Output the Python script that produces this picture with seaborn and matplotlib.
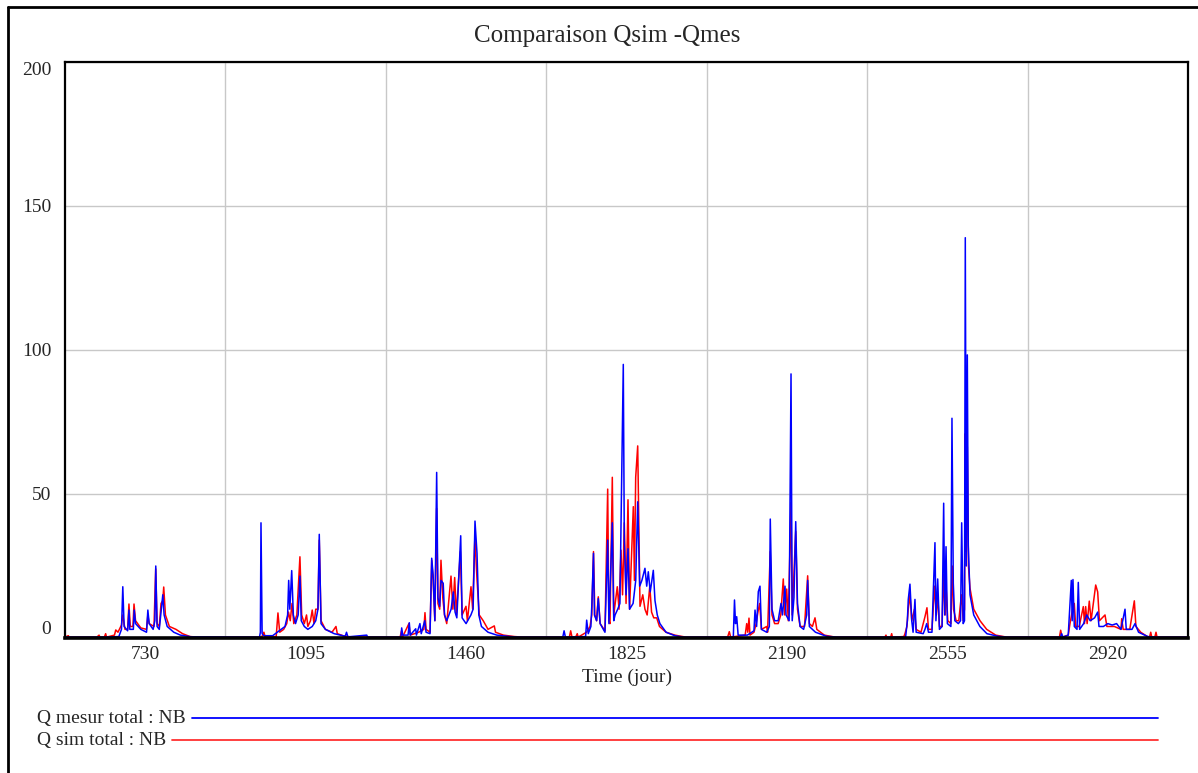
import numpy as np
import pandas as pd
import matplotlib
matplotlib.use('Agg')
import matplotlib.pyplot as plt
from matplotlib.lines import Line2D
import seaborn as sns

# Q mesur total : NB (blue): (day, value)
t_mes = [547.5, 640, 670, 676, 679, 682, 690, 693, 695, 703, 705, 708, 720, 733, 736, 739,
         748, 752, 754, 757, 762, 766, 770, 773, 780, 795, 810, 835,
         990, 992, 993.4, 996, 1000, 1020, 1035, 1048, 1054, 1056.4, 1059, 1063.3, 1067,
         1072, 1078, 1082, 1085, 1092, 1100, 1110, 1118, 1123, 1126, 1130, 1140, 1160,
         1185, 1188, 1191, 1234, 1236,
         1312, 1313.5, 1316, 1328, 1330.8, 1333, 1345.4, 1347, 1355, 1358, 1366, 1369,
         1378, 1381.8, 1385, 1389, 1393.1, 1396, 1400, 1403, 1408, 1411, 1416, 1426,
         1431, 1435, 1439, 1447.8, 1451, 1460, 1471, 1476, 1480.3, 1484.9, 1489, 1495,
         1510, 1530, 1560, 1580,
         1680, 1683, 1686, 1732, 1734.4, 1738, 1744, 1746, 1749.9, 1752, 1757, 1760.8,
         1765, 1776, 1782.2, 1785, 1792.7, 1796, 1799, 1805, 1810, 1817.7, 1820, 1824,
         1828.4, 1832, 1840, 1846, 1850.5, 1855, 1860, 1867, 1871, 1874.6, 1879, 1886,
         1889.8, 1895, 1901, 1915, 1935, 1955,
         2068, 2070.7, 2073, 2075.7, 2079, 2100, 2115, 2117.4, 2121, 2124.9, 2128.7,
         2132, 2144, 2150, 2152.1, 2156, 2162, 2170, 2176.5, 2180, 2185.6, 2188, 2195,
         2199.3, 2202, 2206, 2210, 2214, 2220, 2228, 2235, 2237.2, 2241, 2255, 2280, 2303,
         2460, 2464, 2466.1, 2469.9, 2474, 2477, 2481.3, 2484, 2500, 2504, 2508, 2512,
         2520, 2521.6, 2526.8, 2529, 2533, 2537, 2543, 2546.6, 2549, 2552, 2555, 2563,
         2565.5, 2568.5, 2572, 2580, 2585, 2587.6, 2591, 2594, 2595.8, 2598.1, 2600.4,
         2602.6, 2606.5, 2615, 2629, 2645, 2670, 2690,
         2812, 2815, 2818, 2830, 2834, 2837, 2839, 2840.8, 2843.8, 2850, 2852.9, 2856,
         2865, 2872, 2880, 2890, 2897, 2900, 2910, 2920, 2930, 2940, 2950, 2959.2, 2962,
         2975, 2982, 2990, 3011, 3030, 3102.5]
q_mes = [0.3, 0.3, 0.5, 3, 17.8, 4, 2.5, 9.7, 3, 3, 9.7, 5, 3, 2, 9.7, 5,
         3, 6, 25, 4, 3, 9, 15, 8, 4, 2, 1, 0.4,
         0.3, 2, 40, 1.5, 0.8, 0.8, 2.5, 4, 8, 20, 10, 23.4, 8,
         5, 8, 21.5, 6, 4, 3, 4, 6, 10, 36, 5, 3, 1.5,
         0.6, 2, 0.4, 1, 0.3,
         0.3, 3.5, 1, 1, 5.3, 1, 3.2, 1, 5, 1.5, 6, 2,
         1.5, 27.7, 22, 6, 57.5, 14, 11, 20, 19, 8, 6, 10,
         16, 9, 7, 35.5, 7, 5, 8, 10, 40.6, 29.4, 8, 4,
         2, 1, 0.5, 0.3,
         0.3, 2.5, 0.3, 0.5, 6.2, 1.5, 4, 11, 29.4, 8, 6, 13.7,
         5, 2, 34, 5, 40, 6, 8, 10, 12, 95, 34, 15,
         31, 10, 12, 20, 47.3, 18, 20, 24.2, 18, 23, 16, 23.5,
         13, 8, 5, 2, 0.8, 0.3,
         0.3, 13.2, 5, 7.4, 1, 1, 2.5, 9.7, 4, 16.1, 18,
         3, 2, 4, 41.3, 10, 6, 6, 12, 8, 18, 8, 6,
         91.7, 6, 14, 40.4, 12, 4, 3, 8, 20, 4, 2, 0.6, 0.3,
         0.3, 6, 13.4, 18.7, 6, 2, 13.4, 2, 1.5, 3, 5, 2,
         2, 9.7, 33.1, 6, 20.5, 3, 4, 46.8, 8, 31.7, 5, 4,
         76.3, 19, 6, 5, 6, 40, 5, 6, 139, 25, 98.3,
         32, 15, 8, 4, 1.5, 0.6, 0.3,
         0.3, 1.5, 0.3, 1, 12, 20, 6, 20.3, 4, 3, 19.3, 3,
         5, 8, 6, 7, 9, 4, 4, 5, 4.5, 5, 3, 10, 3,
         3, 5, 2, 0.5, 0.3, 0.3]

# Q sim total : NB (red)
t_sim = [547.5, 555, 557, 620, 625, 627, 637, 640, 642, 660, 663, 668, 676, 679, 684,
         690, 693, 696, 702, 704.5, 708, 720, 733, 736, 739, 750, 753.9, 757, 762, 766,
         770, 772.1, 776, 785, 800, 815, 832, 850,
         995, 1000, 1003, 1028, 1032, 1036, 1045, 1052, 1056, 1060, 1064, 1068, 1075,
         1082, 1086, 1092, 1097, 1100, 1106, 1110, 1114, 1118, 1123, 1126, 1130, 1140,
         1155, 1164, 1167, 1180, 1200,
         1310, 1313, 1316, 1330, 1333, 1352, 1364, 1366.5, 1369, 1378, 1381.8, 1385,
         1389, 1393, 1396, 1400, 1402.9, 1407, 1411, 1416, 1425.7, 1430, 1434.1, 1438,
         1447, 1451, 1459.8, 1463, 1471.2, 1475, 1480, 1485, 1490, 1499, 1510, 1524.2,
         1527, 1545, 1570, 1590,
         1695, 1698, 1701, 1710, 1713, 1715, 1734, 1742, 1746, 1749.9, 1753, 1757,
         1760.8, 1765, 1776, 1782.2, 1785, 1787.4, 1792.7, 1796, 1804, 1808, 1812.5,
         1816, 1820, 1824, 1828.4, 1832, 1840.5, 1843, 1845.9, 1850.5, 1855.7, 1862,
         1867, 1872, 1878, 1882, 1887, 1893.7, 1900, 1915, 1935, 1960,
         2055, 2058.9, 2062, 2095, 2098.5, 2101, 2103.7, 2106, 2115, 2120, 2124, 2128,
         2132, 2144, 2146, 2152, 2156, 2162, 2170, 2176, 2181.7, 2185, 2189.5, 2193,
         2199.3, 2202, 2206.1, 2210, 2214, 2220, 2230, 2237.2, 2241, 2248, 2253.9, 2258,
         2275, 2300,
         2413, 2415.3, 2417, 2426, 2428.3, 2430, 2456, 2458.6, 2463, 2466, 2470, 2474,
         2480, 2484, 2495, 2504.1, 2508.6, 2512, 2520, 2526, 2530, 2533, 2537, 2543,
         2546, 2550, 2552, 2556, 2563, 2566, 2569, 2575, 2581, 2587, 2591, 2594, 2595.8,
         2598, 2600.4, 2603, 2606.5, 2615, 2629.3, 2644.5, 2665, 2690,
         2810, 2812.8, 2816, 2830, 2834, 2840, 2843.8, 2847, 2855, 2864.3, 2867, 2869.7,
         2873, 2877.9, 2882, 2892.5, 2897, 2901, 2913.7, 2918, 2935, 2950, 2951.7, 2955,
         2970, 2980.4, 2984, 2995, 3010, 3015, 3017.7, 3020, 3027, 3029.7, 3032, 3102.5]
q_sim = [0.3, 0.8, 0.3, 0.3, 1, 0.3, 0.3, 1.5, 0.3, 1, 2.8, 2, 4.5, 8, 3,
         3, 11.8, 4, 4, 11.8, 6, 3.5, 3, 8, 5, 4, 24, 5, 4, 12,
         13, 17.7, 8, 4, 3, 1.5, 0.5, 0.3,
         0.3, 2, 0.3, 0.5, 8.7, 2, 3, 5, 9, 6, 12, 5, 8,
         28.2, 8, 5, 8, 4, 6, 9.7, 5, 10, 10, 34, 6, 3,
         2, 4, 1.5, 0.8, 0.3,
         0.3, 2.5, 0.5, 5, 1, 2, 3, 8.8, 3, 2, 27, 20,
         6, 45, 12, 10, 27, 14, 8, 5, 21.5, 10, 21, 8,
         30, 8, 11, 6, 17.8, 10, 35, 20, 8, 6, 3, 4.2,
         2, 1, 0.5, 0.3,
         0.3, 2.5, 0.3, 0.5, 1.5, 0.3, 2, 4, 8, 30, 8, 6,
         14.3, 5, 2.5, 51.7, 6, 5, 55.8, 8, 17.8, 10, 30.5,
         15, 40, 12, 48, 10, 45.6, 20, 55.8, 66.7, 11, 15,
         10, 8, 18, 9, 7, 7, 4, 2, 1, 0.3,
         0.3, 2.2, 0.3, 1, 5, 2, 6.9, 1, 2, 5, 9, 12,
         3, 4, 2, 30, 8, 5, 5, 8, 20.5, 8, 17, 6,
         47, 8, 23, 37, 10, 4, 4, 21.6, 5, 4, 7, 3,
         1, 0.3,
         0.3, 1, 0.3, 0.3, 1.5, 0.3, 0.5, 1.5, 4, 10, 15, 6,
         10, 3, 2, 7.4, 10.5, 3, 3, 18, 8, 15, 4, 4,
         22, 8, 18, 6, 5, 25, 10, 6, 6, 15, 6, 10, 71,
         30, 66.4, 25, 17.3, 10, 6, 3, 1, 0.3,
         0.3, 2.7, 0.3, 1, 5, 10, 12, 4, 4, 10.9, 5, 10.9,
         5, 12.8, 6, 18.4, 16, 6, 8, 4, 4, 3, 6.7, 3,
         3, 12.9, 4, 2, 0.5, 0.3, 2, 0.3, 0.3, 2, 0.3, 0.3]

x_ticks = [730, 1095, 1460, 1825, 2190, 2555, 2920]
x_grid = [912.5, 1277.5, 1642.5, 2007.5, 2372.5, 2737.5]
y_ticks = [0, 50, 100, 150, 200]

df_mes = pd.DataFrame({'t': t_mes, 'q': q_mes})
df_sim = pd.DataFrame({'t': t_sim, 'q': q_sim})

sns.set_style('white')
plt.rcParams['font.family'] = ['Liberation Serif', 'DejaVu Serif']

fig = plt.figure(figsize=(11.98, 7.73), dpi=100)
ax = fig.add_axes([65/1198, 1-638/773, 1123/1198, 576/773])

sns.lineplot(data=df_sim, x='t', y='q', color='#ff0000', lw=1.1, estimator=None, sort=False, ax=ax)
sns.lineplot(data=df_mes, x='t', y='q', color='#0000ff', lw=1.1, estimator=None, sort=False, ax=ax)

ax.set_xlim(547.5, 3102.5)
ax.set_ylim(0, 200)
ax.set_xticks(x_ticks)
ax.set_xticks(x_grid, minor=True)
ax.set_yticks(y_ticks)
ax.set_xticklabels([str(v) for v in x_ticks], fontsize=14)
ax.set_yticklabels([str(v) for v in y_ticks], fontsize=14)
ax.tick_params(which='both', length=0)
ax.tick_params(axis='x', pad=6)
ax.tick_params(axis='y', pad=10)
ylabs = ax.get_yticklabels()
ylabs[0].set_va('bottom')
ylabs[-1].set_va('top')

ax.grid(False)
ax.grid(which='minor', axis='x', color='#c8c8c8', lw=1)
ax.grid(which='major', axis='y', color='#c8c8c8', lw=1)
ax.set_axisbelow(True)

for s in ['top', 'left', 'right']:
    ax.spines[s].set_color('black')
    ax.spines[s].set_linewidth(1.6)
ax.spines['bottom'].set_color('black')
ax.spines['bottom'].set_linewidth(2.6)

ax.set_xlabel('Time (jour)', fontsize=14, labelpad=4)
ax.set_ylabel('')

fig.text(607/1198, 1-36/773, 'Comparaison Qsim -Qmes', fontsize=18, ha='center', va='center')

# Vensim style legend below the plot
fig.canvas.draw()
r = fig.canvas.get_renderer()
for name, col, y in [('Q mesur total : NB', '#0000ff', 718), ('Q sim total : NB', '#ff3030', 740)]:
    tx = fig.text(37/1198, 1-y/773, name, fontsize=14, ha='left', va='center')
    bb = tx.get_window_extent(r)
    x0 = (bb.x1 + 6) / 1198
    fig.add_artist(Line2D([x0, 1158/1198], [1-y/773, 1-y/773], color=col, lw=1.3))

# outer frame
fig.add_artist(Line2D([7.5/1198, 7.5/1198], [0, 1-6.5/773], color='black', lw=2))
fig.add_artist(Line2D([7.5/1198, 1], [1-6.5/773, 1-6.5/773], color='black', lw=2))

plt.savefig('out.png', dpi=100)
